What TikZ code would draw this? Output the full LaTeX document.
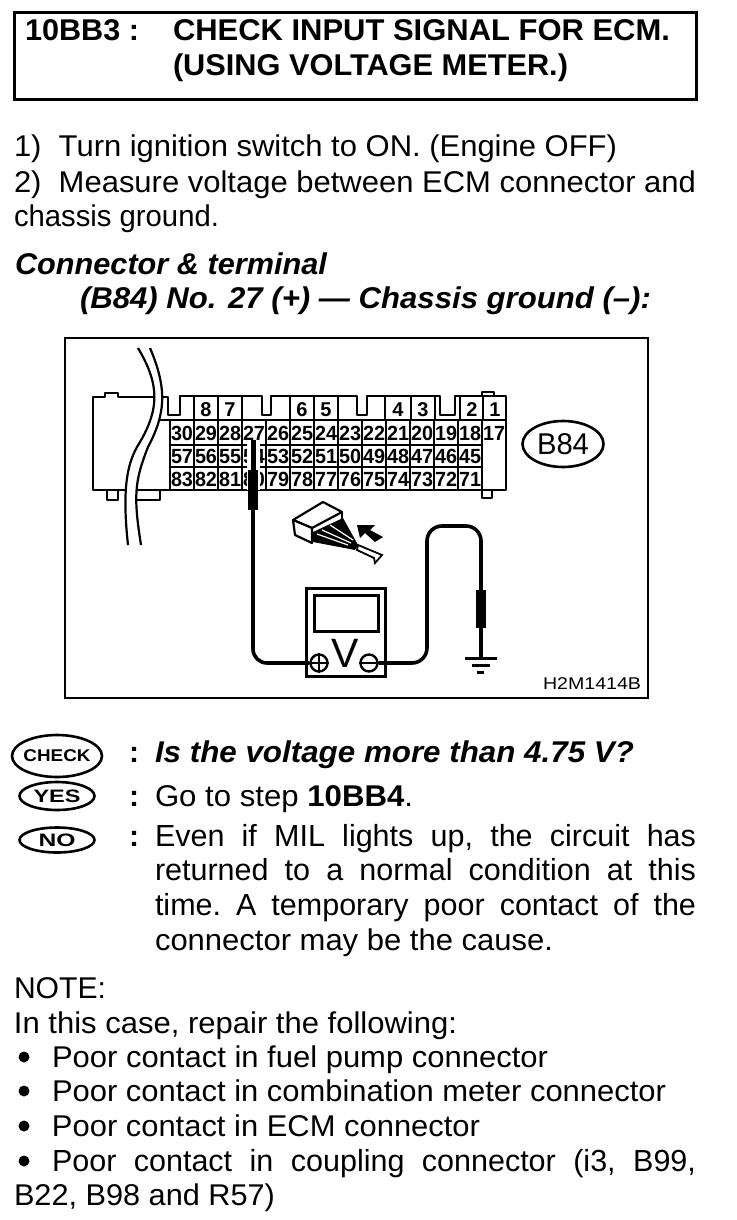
\documentclass[tikz,border=0pt]{standalone}
\usepackage{fontspec}
\usepackage{graphicx}
\setmainfont{Liberation Sans}
\usetikzlibrary{shapes.geometric,calc}
\newsavebox\fitbox
\newcommand\fitw[2]{\sbox\fitbox{#2}\pgfmathsetmacro\fitr{#1/\the\wd\fitbox}\scalebox{\fitr}[1]{\usebox\fitbox}}
\newcommand\bodyf{\fontsize{30}{30}\selectfont\frenchspacing}
\newcommand\justf{\fontsize{30.5}{30.5}\selectfont\frenchspacing}
\newcommand\headf{\fontsize{30}{30}\selectfont\bfseries}
\newcommand\ibf{\fontsize{30}{30}\selectfont\bfseries\itshape}
\newcommand\cellf{\fontsize{20.5}{20.5}\selectfont\bfseries}
\tikzset{
  txt/.style={anchor=base west,inner sep=0pt,outer sep=0pt},
  ln/.style={line width=2.2pt,line join=round},
  wire/.style={line width=3.6pt,line join=round},
  ring/.style={draw,ellipse,line width=2.6pt,inner sep=0pt},
  lbl/.style={anchor=center,inner sep=0pt},
  cell/.style={anchor=center,inner sep=0pt,font=\cellf,text height=14.5pt,text depth=0pt},
  topn/.style={anchor=center,inner sep=0pt,font=\fontsize{20}{20}\selectfont\bfseries,text height=14pt,text depth=0pt}
}
\begin{document}
\begin{tikzpicture}[x=1pt,y=-1pt]
\useasboundingbox (0,0) rectangle (736,1220);
\fill[white] (0,0) rectangle (736,1220);
% heading
\node[draw,line width=3.2pt,minimum width=682pt,minimum height=87pt,anchor=north west,inner sep=0pt] (titlebox) at (13,11) {};
\node[txt] (t1) at (25,41) {\fitw{114}{\headf 10BB3 :}};
\node[txt] (t2) at (173,41) {\fitw{497}{\headf CHECK INPUT SIGNAL FOR ECM.}};
\node[txt] (t3) at (173,76) {\fitw{395}{\headf (USING VOLTAGE METER.)}};
% steps
\node[txt] (s1) at (14,157) {\fitw{603}{\bodyf 1)\ \ Turn ignition switch to ON. (Engine OFF)}};
\node[txt] (s2) at (14,192) {\fitw{682}{\bodyf 2)\ \ Measure voltage between ECM connector and}};
\node[txt] (s3) at (14,226) {\fitw{205}{\bodyf chassis ground.}};
\node[txt] (c1) at (15,274) {\fitw{312}{\ibf Connector \& terminal}};
\node[txt] (c2) at (80,308) {\fitw{571}{\ibf (B84) No. 27 (+) — Chassis ground (–):}};
% figure frame
\node[draw,line width=2.4pt,minimum width=583pt,minimum height=360pt,anchor=north west,inner sep=0pt] (frame) at (64,337) {};
% connector body
\draw[ln] (93,490) -- (93,397) -- (105,397) -- (105,393) -- (118,393) -- (118,397) -- (165,397) -- (168,397)
  -- (168,415) -- (180,415) -- (180,396) -- (262,396) -- (262,415) -- (271,415) -- (271,396) -- (357,396)
  -- (357,415) -- (367,415) -- (367,396) -- (440,396) -- (440,415) -- (455,415) -- (455,396) -- (506,396) -- (506,490) -- cycle;
\draw[ln] (107,490) -- (107,500) -- (118,500) -- (118,490);
\draw[ln] (133,490) -- (133,500) -- (160,500) -- (160,490);
\draw[ln] (482,490) -- (482,498) -- (492,498) -- (492,490);
\draw[ln] (482,396) -- (482,392) -- (494,392) -- (494,396);
\draw[ln] (160,420) -- (506,420);
\draw[ln] (170,420) -- (170,490);
\draw[ln] (170,445) -- (482,445);
\draw[ln] (170,467) -- (482,467);
\foreach \i in {1,...,12}{\draw[ln] ({170+24*\i},420) -- ({170+24*\i},490);}
\draw[ln] (482,420) -- (482,490);
\draw[ln] (194,396) -- (194,420) (218,396) -- (218,420) (242,396) -- (242,420);
\draw[ln] (290,396) -- (290,420) (314,396) -- (314,420) (338,396) -- (338,420);
\draw[ln] (385,396) -- (385,420) (411,396) -- (411,420) (435,396) -- (435,420);
\draw[ln] (460,396) -- (460,420) (483,396) -- (483,420);
% numbers
\foreach \n/\c in {8/206,7/230,6/302,5/326,4/398,3/423,2/472,1/495}{\node[topn] (top\n) at (\c,409) {\n};}
\foreach \n [count=\i from 0] in {30,29,...,17}{\node[cell] (r\n) at ({182+24*\i},433) {\fitw{22}{\n}};}
\foreach \n [count=\i from 0] in {57,56,...,45}{\node[cell] (r\n) at ({182+24*\i},456.5) {\fitw{22}{\n}};}
\foreach \n [count=\i from 0] in {83,82,...,71}{\node[cell] (r\n) at ({182+24*\i},479) {\fitw{22}{\n}};}
% break
\fill[white] (138,348) .. controls (160,385) and (160,410) .. (137,447) .. controls (127,465) and (122,490) .. (128,545)
  -- (141,545) .. controls (133,495) and (135,480) .. (148,447) .. controls (165,415) and (168,390) .. (150,348) -- cycle;
\draw[ln] (138,348) .. controls (160,385) and (160,410) .. (137,447) .. controls (127,465) and (122,490) .. (128,545);
\draw[ln] (150,348) .. controls (168,390) and (165,415) .. (148,447) .. controls (135,480) and (133,495) .. (141,545);
% left probe
\coordinate (tipA) at (253,440);
\coordinate (gripA) at (253,470);
\coordinate (endA) at (253,510);
\fill[white] (247,444) rectangle (260,490);
\draw[line width=5pt] (tipA) -- (gripA);
\draw[line width=10pt] (gripA) -- (endA);
% meter
\node[draw,line width=2.8pt,minimum width=79pt,minimum height=88pt,anchor=north west,inner sep=0pt] (meter) at (305,587) {};
\node[draw,line width=2.8pt,minimum width=64pt,minimum height=36pt,anchor=north west,inner sep=0pt] (screen) at (313,594) {};
\node[anchor=center,inner sep=0pt,font=\fontsize{41}{41}\selectfont] (vee) at (345,653) {V};
\node[draw,circle,line width=2.4pt,minimum size=17pt,inner sep=0pt] (plus) at (319,663) {};
\node[draw,circle,line width=2.4pt,minimum size=17pt,inner sep=0pt] (minus) at (369,663) {};
\draw[line width=2.2pt] (plus.west) -- (plus.east) (plus.north) -- (plus.south);
\draw[line width=2.2pt] (minus.west) -- (minus.east);
% wires
\draw[wire,rounded corners=14pt] (endA) -- (253,663) -- (plus.west);
\coordinate (bendA) at (427,663);
\coordinate (topA) at (427,526);
\coordinate (topB) at (481,526);
\coordinate (gripB) at (481,590);
\coordinate (endB) at (481,628);
\coordinate (gnd) at (481,658);
\draw[wire,rounded corners=15pt] (minus.east) -- (bendA) -- (topA) -- (topB) -- (gripB);
\draw[line width=10pt] (gripB) -- (endB);
\draw[wire] (endB) -- (gnd);
\draw[line width=3pt] (465,658) -- (497,658);
\draw[line width=3pt] (472,665) -- (490,665);
\draw[line width=3pt] (477,672) -- (484,672);
% small connector view
\draw[ln,fill=white] (293,520) -- (323,502) -- (342,512) -- (312,528) -- cycle;
\draw[ln,fill=white] (293,520) -- (295,535) -- (312,543) -- (312,528) -- cycle;
\draw[ln] (342,512) -- (342,520);
\fill (313,532) -- (343,518) -- (358,545) -- (355,550) -- (313,542) -- cycle;
\draw[white,line width=1.2pt] (317,534) -- (348,545) (322,530) -- (351,543) (330,525) -- (353,540);
\draw[line width=1.8pt,fill=white] (358,545) -- (382,555) -- (375,563) -- (374,558) -- (357,550) -- cycle;
\fill (357,525) -- (375,525) -- (370,530) -- (383,537) -- (375,542) -- (365,533) -- (360,538) -- cycle;
% label
\node[txt] (code) at (543,689) {\fitw{98}{\fontsize{17}{17}\selectfont H2M1414B}};
\node[ring,minimum width=81pt,minimum height=46pt] (b84) at (563,444) {};
\node[lbl] (b84t) at (b84) {\fitw{52}{\fontsize{30}{30}\selectfont B84}};
% badges
\node[ring,minimum width=90pt,minimum height=42pt] (chk) at (57,756) {};
\node[ring,minimum width=75pt,minimum height=28pt] (yes) at (57,796) {};
\node[ring,minimum width=75pt,minimum height=25pt] (no) at (57,840) {};
\node[lbl] (chkt) at (chk) {\fitw{67}{\fontsize{17}{17}\selectfont\bfseries CHECK}};
\node[lbl] (yest) at (yes) {\fitw{47}{\fontsize{18}{18}\selectfont\bfseries YES}};
\node[lbl] (not) at (no) {\fitw{37}{\fontsize{18}{18}\selectfont\bfseries NO}};
\node[txt] (q0) at (129,762) {\bodyf\bfseries :};
\node[txt] (q1) at (155,762) {\fitw{479}{\ibf Is the voltage more than 4.75 V?}};
\node[txt] (y0) at (129,806) {\bodyf\bfseries :};
\node[txt] (y1) at (155,806) {\fitw{258}{\bodyf Go to step \textbf{10BB4}.}};
\node[txt] (n0) at (129,846) {\bodyf\bfseries :};
\node[txt] (n1) at (155,846) {\justf\makebox[541pt][s]{Even if MIL lights up, the circuit has}};
\node[txt] (n2) at (155,880) {\justf\makebox[541pt][s]{returned to a normal condition at this}};
\node[txt] (n3) at (155,915) {\justf\makebox[541pt][s]{time. A temporary poor contact of the}};
\node[txt] (n4) at (155,950) {\fitw{398}{\bodyf connector may be the cause.}};
\node[txt] (nt) at (14,998) {\fitw{92}{\bodyf NOTE:}};
\node[txt] (nc) at (14,1033) {\fitw{443}{\bodyf In this case, repair the following:}};
\foreach \y/\nm in {1057/d1,1091/d2,1126/d3,1161/d4}{\node[fill,circle,minimum size=11pt,inner sep=0pt] (\nm) at (24,\y) {};}
\node[txt] (b1) at (52,1067) {\fitw{496}{\bodyf Poor contact in fuel pump connector}};
\node[txt] (b2) at (52,1101) {\fitw{614}{\bodyf Poor contact in combination meter connector}};
\node[txt] (b3) at (52,1136) {\fitw{428}{\bodyf Poor contact in ECM connector}};
\node[txt] (b4) at (52,1171) {\justf\makebox[644pt][s]{Poor contact in coupling connector (i3, B99,}};
\node[txt] (b5) at (14,1205) {\fitw{261}{\bodyf B22, B98 and R57)}};
\end{tikzpicture}
\end{document}
